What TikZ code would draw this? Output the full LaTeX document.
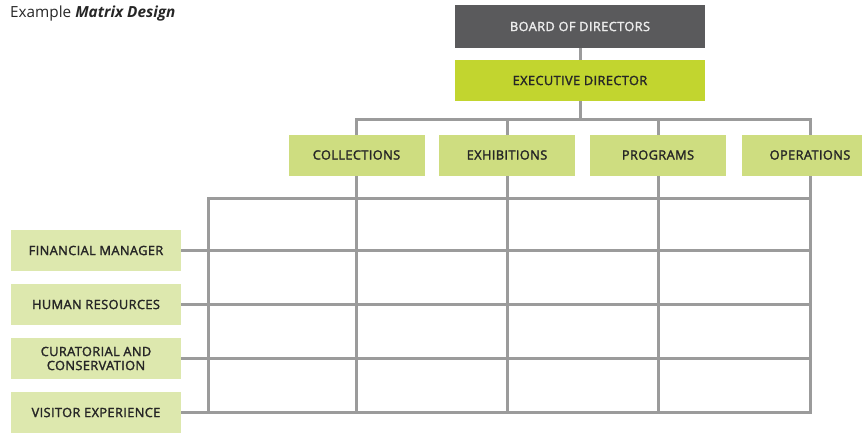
\documentclass[tikz,border=0pt]{standalone}
\usepackage{fontspec}
\setmainfont{Open Sans}
\newfontfamily\labelfont[LetterSpace=3, FakeBold=2]{Open Sans}
\usetikzlibrary{calc, backgrounds}

\definecolor{boardgray}{HTML}{5A5A5C}
\definecolor{execlime}{HTML}{C2D52F}
\definecolor{collime}{HTML}{CEDD80}
\definecolor{rowlime}{HTML}{DDE8AE}
\definecolor{linkgray}{HTML}{9B9B9B}
\definecolor{labeltext}{HTML}{262626}

\begin{document}
\begin{tikzpicture}[x=1pt, y=-1pt,
    box/.style={inner sep=0pt, align=center, text=labeltext,
        font=\fontsize{12.8}{14}\labelfont},
    boardbox/.style={box, fill=boardgray, text=white!92!black,
        minimum width=250pt, minimum height=43pt},
    execbox/.style={box, fill=execlime, minimum width=250pt, minimum height=41pt},
    colbox/.style={box, fill=collime, minimum width=136pt, minimum height=41pt},
    rowbox/.style={box, fill=rowlime, minimum width=170pt, minimum height=41pt},
    link/.style={draw=linkgray, line width=3pt, line cap=rect}]

    % Page size
    \useasboundingbox (0,0) rectangle (862,437);

    % Parameters
    \def\colY{155}
    \def\rowX{96}

    % Title
    \node[anchor=west, inner sep=0pt, text=labeltext,
        font=\fontsize{15.3}{18}\selectfont] (title) at (10,14)
        {Example \textbf{\textit{Matrix Design}}};

    % Top of the chart
    \node[boardbox] (board) at (580,26.5) {BOARD OF DIRECTORS};
    \node[execbox]  (exec)  at (580,80.5) {EXECUTIVE DIRECTOR};

    % Departments (columns)
    \node[colbox] (collections) at (356.5,\colY) {COLLECTIONS};
    \node[colbox] (exhibitions) at (507,\colY)   {EXHIBITIONS};
    \node[colbox] (programs)    at (658,\colY)   {PROGRAMS};
    \node[colbox] (operations)  at (810,\colY)   {OPERATIONS};

    % Functions (rows)
    \node[rowbox] (financial)  at (\rowX,250.5) {FINANCIAL MANAGER};
    \node[rowbox] (human)      at (\rowX,304.5) {HUMAN RESOURCES};
    \node[rowbox] (curatorial) at (\rowX,358.5) {CURATORIAL AND\\CONSERVATION};
    \node[rowbox] (visitor)    at (\rowX,412.5) {VISITOR EXPERIENCE};

    % Grid corners
    \coordinate (bus)     at ($(exec.south)+(0,18)$);
    \coordinate (gridtop) at (208,198);

    \begin{pgfonlayer}{background}
        % Board to departments
        \draw[link] (board) -- (exec);
        \draw[link] (exec) -- (bus);
        \draw[link] (collections.north |- bus) -- (operations.north |- bus);
        \foreach \c in {collections, exhibitions, programs, operations}
            \draw[link] (\c.north |- bus) -- (\c.north);

        % Matrix frame
        \draw[link] (gridtop |- visitor.east) -- (gridtop)
            -- (gridtop -| operations.south);
        \draw[link] (visitor.east) -- (visitor.east -| operations.south)
            -- (operations.south);

        % Column lines
        \foreach \c in {collections, exhibitions, programs}
            \draw[link] (\c.south) -- (\c.south |- visitor.east);

        % Row lines
        \foreach \r in {financial, human, curatorial}
            \draw[link] (\r.east) -- (\r.east -| operations.south);
    \end{pgfonlayer}

\end{tikzpicture}
\end{document}
